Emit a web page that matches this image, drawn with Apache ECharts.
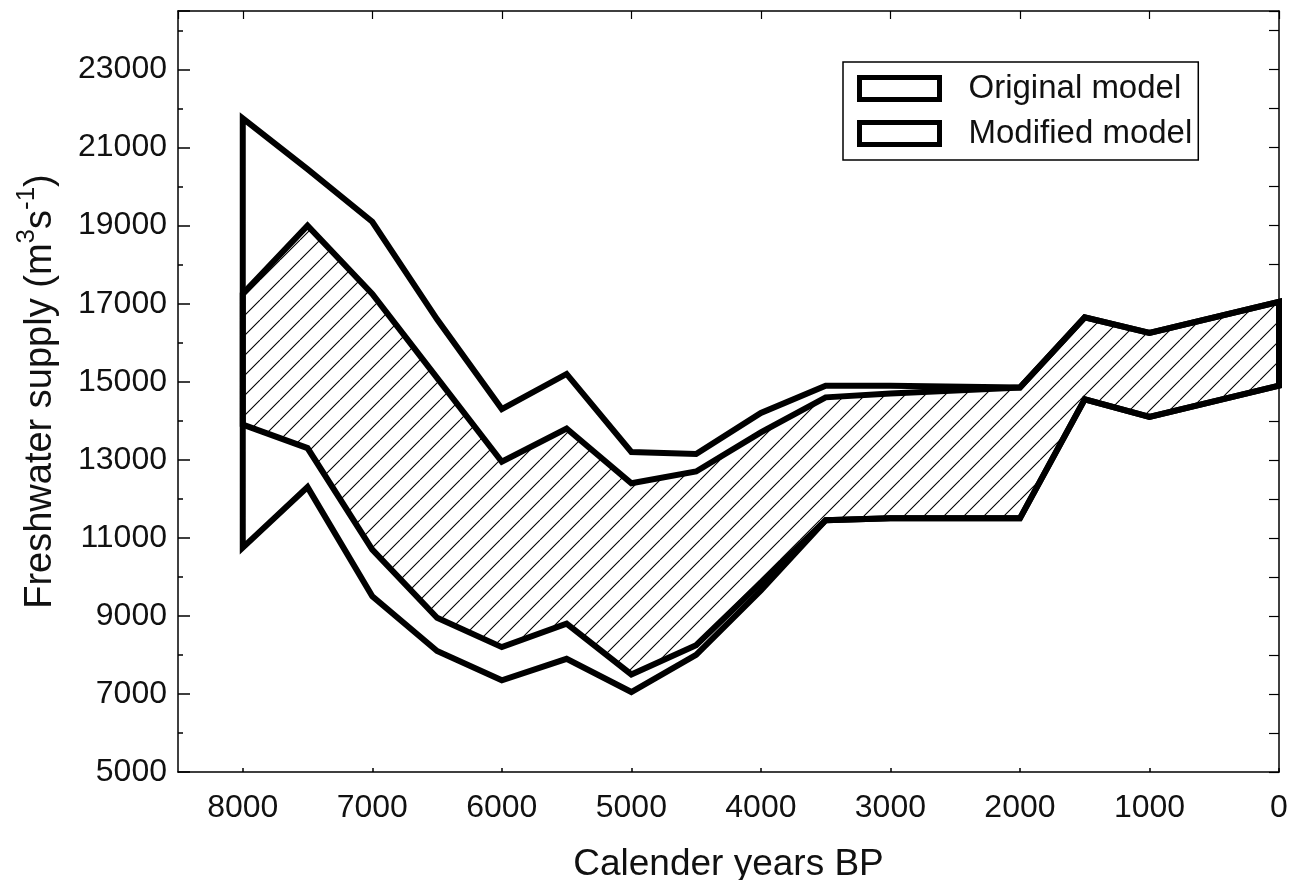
<!DOCTYPE html>
<html>
<head>
<meta charset="utf-8">
<script src="https://cdn.jsdelivr.net/npm/echarts@6/dist/echarts.min.js"></script>
<style>
  html, body { margin: 0; padding: 0; background: #fff; }
  #chart { width: 1291px; height: 880px; }
</style>
</head>
<body>
<div id="chart"></div>
<script>
// Calendar years BP at which the supply envelopes are given
const years = [8000, 7500, 7000, 6500, 6000, 5500, 5000, 4500, 4000, 3500, 3000, 2000, 1500, 1000, 0];

// Freshwater supply envelopes (m3/s)
const originalUpper = [21750, 20450, 19100, 16600, 14300, 15200, 13200, 13150, 14200, 14900, 14900, 14850, 16650, 16250, 17050];
const originalLower = [10750, 12300, 9500, 8100, 7350, 7900, 7050, 8000, 9650, 11450, 11500, 11500, 14550, 14100, 14900];
const modifiedUpper = [17250, 19000, 17250, 15100, 12950, 13800, 12400, 12700, 13700, 14600, 14700, 14850, 16650, 16250, 17050];
const modifiedLower = [13900, 13300, 10700, 8950, 8200, 8800, 7500, 8250, 9850, 11450, 11500, 11500, 14550, 14100, 14900];

// Labelled ticks
const xTickLabels = [8000, 7000, 6000, 5000, 4000, 3000, 2000, 1000, 0];
const yTickLabels = [5000, 7000, 9000, 11000, 13000, 15000, 17000, 19000, 21000, 23000];

const FONT = 'Liberation Sans, Arial, Helvetica, sans-serif';

// Closed outline of a band: along the upper edge, back along the lower edge
function bandOutline(upper, lower) {
  const top = years.map((x, i) => [x, upper[i]]);
  const bottom = years.map((x, i) => [x, lower[i]]).reverse();
  return top.concat(bottom);
}

// Diagonal "/" hatching tile
function hatchTile(size) {
  const c = document.createElement('canvas');
  c.width = size; c.height = size;
  const ctx = c.getContext('2d');
  ctx.strokeStyle = '#000';
  ctx.lineWidth = 1.1;
  ctx.beginPath();
  for (const k of [-size, 0, size]) {
    ctx.moveTo(k, size);
    ctx.lineTo(k + size, 0);
  }
  ctx.stroke();
  return c;
}

const originalBand = bandOutline(originalUpper, originalLower);
const modifiedBand = bandOutline(modifiedUpper, modifiedLower);
const hatch = { image: hatchTile(20), repeat: 'repeat' };

function polygonSeries(name, outline, fill, z) {
  return {
    type: 'custom',
    name: name,
    xAxisIndex: 0,
    yAxisIndex: 0,
    silent: true,
    z: z,
    data: outline,
    renderItem: function (params, api) {
      if (params.dataIndex !== 0) return null;
      return {
        type: 'polygon',
        shape: { points: outline.map(p => api.coord(p)) },
        style: { fill: fill, stroke: '#000', lineWidth: 6, lineJoin: 'miter' }
      };
    }
  };
}

const axisLine = { show: true, onZero: false, lineStyle: { color: '#000', width: 1.5 } };

const chart = echarts.init(document.getElementById('chart'), null, { renderer: 'canvas' });

chart.setOption({
  animation: false,
  backgroundColor: '#fff',
  textStyle: { fontFamily: FONT },
  grid: { left: 178, right: 12, top: 11, bottom: 108, show: false, containLabel: false, outerBoundsMode: 'none' },
  legend: {
    orient: 'vertical',
    left: 843,
    top: 62,
    padding: [10, 6, 10, 14],
    itemGap: 12,
    itemWidth: 80,
    itemHeight: 22,
    borderColor: '#000',
    borderWidth: 1.5,
    backgroundColor: '#fff',
    textStyle: { fontFamily: FONT, fontSize: 33, color: '#111', padding: [0, 0, 0, 24] },
    data: [
      { name: 'Original model', icon: 'rect', itemStyle: { color: '#fff', borderColor: '#000', borderWidth: 5 } },
      { name: 'Modified model', icon: 'rect', itemStyle: { color: '#fff', borderColor: '#000', borderWidth: 5 } }
    ]
  },
  xAxis: [
    {
      type: 'value',
      position: 'bottom',
      inverse: true,
      min: 0,
      max: 8500,
      interval: 1000,
      axisLine: axisLine,
      axisTick: { show: true, inside: true, length: 4, lineStyle: { color: '#000', width: 1.5 } },
      splitLine: { show: false },
      axisLabel: {
        show: true,
        margin: 20,
        fontSize: 32,
        color: '#111',
        fontFamily: FONT,
        showMaxLabel: false,
        formatter: v => (xTickLabels.includes(v) ? String(v) : '')
      },
      name: 'Calender years BP',
      nameLocation: 'middle',
      nameGap: 74,
      nameTextStyle: { fontSize: 37, color: '#111', fontFamily: FONT }
    },
    {
      type: 'value',
      position: 'top',
      inverse: true,
      min: 0,
      max: 8500,
      interval: 1000,
      axisLine: axisLine,
      axisTick: { show: true, inside: true, length: 8, lineStyle: { color: '#000', width: 1.2 } },
      axisLabel: { show: false },
      splitLine: { show: false }
    }
  ],
  yAxis: [
    {
      type: 'value',
      position: 'left',
      min: 5000,
      max: 24500,
      interval: 1000,
      axisLine: axisLine,
      axisTick: { show: true, inside: true, length: 5, lineStyle: { color: '#000', width: 1.5 } },
      splitLine: { show: false },
      axisLabel: {
        margin: 11,
        fontSize: 32,
        color: '#111',
        fontFamily: FONT,
        showMaxLabel: false,
        formatter: v => (yTickLabels.includes(v) ? String(v) : '')
      },
      name: '{t|Freshwater supply (m}{s|3}{t|s}{s|-1}{t|)}',
      nameLocation: 'middle',
      nameGap: 118,
      nameTextStyle: {
        fontFamily: FONT,
        color: '#111',
        rich: {
          t: { fontSize: 38, fontFamily: FONT, color: '#111', lineHeight: 46, verticalAlign: 'bottom' },
          s: { fontSize: 26, fontFamily: FONT, color: '#111', lineHeight: 46, verticalAlign: 'top' }
        }
      }
    },
    {
      // longer ticks at the labelled values (5000, 7000, ...)
      type: 'value',
      position: 'left',
      min: 4000,
      max: 23500,
      interval: 2000,
      axisLine: { show: false, onZero: false },
      axisTick: { show: true, inside: true, length: 12, lineStyle: { color: '#000', width: 1.5 } },
      axisLabel: { show: false },
      splitLine: { show: false }
    },
    {
      type: 'value',
      position: 'right',
      min: 5000,
      max: 24500,
      interval: 1000,
      axisLine: axisLine,
      axisTick: { show: true, inside: true, length: 10, lineStyle: { color: '#000', width: 1.2 } },
      axisLabel: { show: false },
      splitLine: { show: false }
    }
  ],
  series: [
    polygonSeries('Original model', originalBand, '#fff', 2),
    polygonSeries('Modified model', modifiedBand, hatch, 3)
  ]
});
</script>
</body>
</html>
